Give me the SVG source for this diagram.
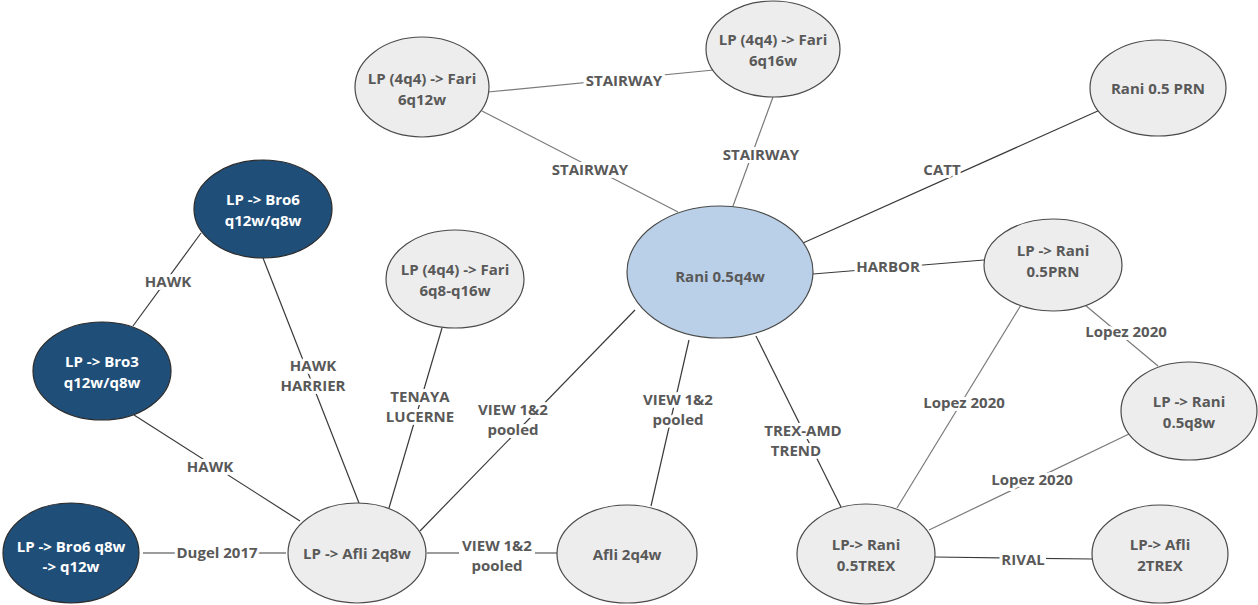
<svg xmlns="http://www.w3.org/2000/svg" width="1258" height="605" viewBox="0 0 1258 605">
  <style>
    .bg { fill: #ffffff; }
    .edge { stroke: #3a3a3a; stroke-width: 1.2; fill: none; }
    .edge.light { stroke: #7a7a7a; }
    .node-light { fill: #ededed; stroke: #4a4a4a; stroke-width: 1.2; }
    .node-dark { fill: #1f4e79; stroke: #2b2b2b; stroke-width: 1.2; }
    .node-main { fill: #bad0e8; stroke: #4a4a4a; stroke-width: 1.2; }
    .mask { fill: #ffffff; }
    text { font-family: "Open Sans", "Noto Sans", "Liberation Sans", sans-serif; font-weight: bold; font-size: 15px; text-anchor: middle; }
    .t { fill: #595959; }
    .tw { fill: #ffffff; }
    .lbl { fill: #595959; stroke: #ffffff; stroke-width: 6; stroke-linejoin: round; paint-order: stroke; }
  </style>
  <rect class="bg" x="0" y="0" width="1258" height="605"/>

  <g id="connectors">
    <line class="edge light" x1="488" y1="92" x2="724" y2="69"/>
    <line class="edge light" x1="482" y1="111" x2="678" y2="212"/>
    <line class="edge light" x1="773" y1="97" x2="733" y2="206"/>
    <line class="edge" x1="1100" y1="110" x2="803" y2="243"/>
    <line class="edge" x1="813" y1="274" x2="984" y2="260"/>
    <line class="edge light" x1="1085" y1="305" x2="1158" y2="366"/>
    <line class="edge light" x1="1021" y1="305" x2="897" y2="508"/>
    <line class="edge light" x1="1129" y1="434" x2="929" y2="530"/>
    <line class="edge" x1="934" y1="557" x2="1092" y2="559"/>
    <line class="edge" x1="756" y1="336" x2="841" y2="507"/>
    <line class="edge" x1="689" y1="340" x2="651" y2="506"/>
    <line class="edge" x1="635" y1="310" x2="420" y2="531"/>
    <line class="edge" x1="427" y1="553" x2="557" y2="553"/>
    <line class="edge" x1="442" y1="328" x2="389" y2="508"/>
    <line class="edge" x1="263" y1="258" x2="359" y2="503"/>
    <line class="edge" x1="201" y1="233" x2="133" y2="326"/>
    <line class="edge" x1="134" y1="415" x2="300" y2="521"/>
    <line class="edge" x1="143" y1="553" x2="286" y2="553"/>

    <!-- clear the straight connectors behind their labels -->
    <rect class="mask" x="459" y="538" width="76" height="38"/>
    <rect class="mask" x="176" y="543" width="82" height="20"/>
    <rect class="mask" x="1000" y="550" width="46" height="20"/>

    <text class="lbl" x="624" y="86">STAIRWAY</text>
    <text class="lbl" x="590" y="175">STAIRWAY</text>
    <text class="lbl" x="761" y="160">STAIRWAY</text>
    <text class="lbl" x="942" y="175">CATT</text>
    <text class="lbl" x="888" y="272">HARBOR</text>
    <text class="lbl" x="1126" y="337">Lopez 2020</text>
    <text class="lbl" x="964" y="408">Lopez 2020</text>
    <text class="lbl" x="1032" y="485">Lopez 2020</text>
    <text class="lbl" x="1023" y="565">RIVAL</text>
    <text class="lbl" x="803" y="436">TREX-AMD</text>
    <text class="lbl" x="796" y="456">TREND</text>
    <text class="lbl" x="678" y="405">VIEW 1&amp;2</text>
    <text class="lbl" x="678" y="425">pooled</text>
    <text class="lbl" x="513" y="415">VIEW 1&amp;2</text>
    <text class="lbl" x="513" y="435">pooled</text>
    <text class="lbl" x="497" y="551">VIEW 1&amp;2</text>
    <text class="lbl" x="497" y="571">pooled</text>
    <text class="lbl" x="420" y="402">TENAYA</text>
    <text class="lbl" x="420" y="422">LUCERNE</text>
    <text class="lbl" x="313" y="371">HAWK</text>
    <text class="lbl" x="313" y="391">HARRIER</text>
    <text class="lbl" x="168" y="287">HAWK</text>
    <text class="lbl" x="210" y="472">HAWK</text>
    <text class="lbl" x="217" y="558">Dugel 2017</text>
  </g>

  <g id="node-fari-6q12w">
    <ellipse class="node-light" cx="422" cy="87" rx="67" ry="50"/>
    <text class="t" x="422" y="84">LP (4q4) -&gt; Fari</text>
    <text class="t" x="422" y="105">6q12w</text>
  </g>
  <g id="node-fari-6q16w">
    <ellipse class="node-light" cx="773" cy="49" rx="67" ry="48"/>
    <text class="t" x="773" y="45">LP (4q4) -&gt; Fari</text>
    <text class="t" x="773" y="66">6q16w</text>
  </g>
  <g id="node-rani-prn">
    <ellipse class="node-light" cx="1158" cy="88" rx="68" ry="48"/>
    <text class="t" x="1158" y="94">Rani 0.5 PRN</text>
  </g>
  <g id="node-rani-q4w">
    <ellipse class="node-main" cx="720" cy="272" rx="93" ry="66"/>
    <text class="t" x="720" y="282">Rani 0.5q4w</text>
  </g>
  <g id="node-bro6">
    <ellipse class="node-dark" cx="263" cy="209" rx="69" ry="49"/>
    <text class="tw" x="263" y="205">LP -&gt; Bro6</text>
    <text class="tw" x="263" y="226">q12w/q8w</text>
  </g>
  <g id="node-bro3">
    <ellipse class="node-dark" cx="102" cy="371" rx="69" ry="49"/>
    <text class="tw" x="102" y="367">LP -&gt; Bro3</text>
    <text class="tw" x="102" y="388">q12w/q8w</text>
  </g>
  <g id="node-bro6-switch">
    <ellipse class="node-dark" cx="71" cy="553" rx="68" ry="50"/>
    <text class="tw" x="71" y="552">LP -&gt; Bro6 q8w</text>
    <text class="tw" x="71" y="572">-&gt; q12w</text>
  </g>
  <g id="node-afli-2q8w">
    <ellipse class="node-light" cx="357" cy="553" rx="69" ry="50"/>
    <text class="t" x="357" y="559">LP -&gt; Afli 2q8w</text>
  </g>
  <g id="node-fari-6q8-q16w">
    <ellipse class="node-light" cx="455" cy="279" rx="69" ry="49"/>
    <text class="t" x="455" y="275">LP (4q4) -&gt; Fari</text>
    <text class="t" x="455" y="296">6q8-q16w</text>
  </g>
  <g id="node-afli-2q4w">
    <ellipse class="node-light" cx="627" cy="554" rx="70" ry="49"/>
    <text class="t" x="627" y="560">Afli 2q4w</text>
  </g>
  <g id="node-lp-rani-prn">
    <ellipse class="node-light" cx="1053" cy="265" rx="69" ry="46"/>
    <text class="t" x="1053" y="256">LP -&gt; Rani</text>
    <text class="t" x="1053" y="277">0.5PRN</text>
  </g>
  <g id="node-lp-rani-q8w">
    <ellipse class="node-light" cx="1189" cy="411" rx="68" ry="49"/>
    <text class="t" x="1189" y="407">LP -&gt; Rani</text>
    <text class="t" x="1189" y="428">0.5q8w</text>
  </g>
  <g id="node-lp-rani-trex">
    <ellipse class="node-light" cx="866" cy="554" rx="69" ry="50"/>
    <text class="t" x="866" y="550">LP-&gt; Rani</text>
    <text class="t" x="866" y="571">0.5TREX</text>
  </g>
  <g id="node-lp-afli-trex">
    <ellipse class="node-light" cx="1160" cy="554" rx="68" ry="49"/>
    <text class="t" x="1160" y="550">LP-&gt; Afli</text>
    <text class="t" x="1160" y="571">2TREX</text>
  </g>
</svg>
